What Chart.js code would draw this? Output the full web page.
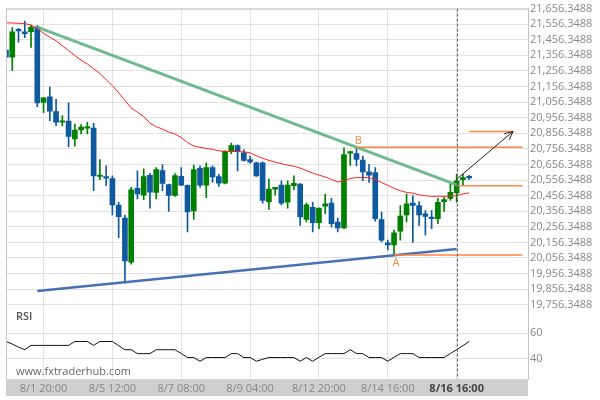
<!DOCTYPE html>
<html><head><meta charset="utf-8">
<script src="https://cdn.jsdelivr.net/npm/chart.js@4/dist/chart.umd.min.js"></script>
<style>html,body{margin:0;padding:0;background:#fff}#wrap{width:600px;height:400px;position:relative}</style>
</head><body><div id="wrap"><canvas id="c"></canvas></div>
<script>
// ---- data ----
const xTickIndex = [6, 17, 28, 39, 50, 61, 72];
const xTickLabels = ['8/1 20:00', '8/5 12:00', '8/7 08:00', '8/9 04:00', '8/12 20:00', '8/14 16:00', '8/16 16:00'];
const priceTicks = [19756.3488, 19856.3488, 19956.3488, 20056.3488, 20156.3488, 20256.3488, 20356.3488,
  20456.3488, 20556.3488, 20656.3488, 20756.3488, 20856.3488, 20956.3488, 21056.3488, 21156.3488,
  21256.3488, 21356.3488, 21456.3488, 21556.3488, 21656.3488];
const rsiTicks = [40, 60];

const open = [21390,21344,21520,21508,21508,21537,21054,21090,20995,20927,20934,20821,20878,20889,20889,
  20579,20579,20566,20395,20313,20029,20503,20460,20587,20477,20617,20528,20458,20581,20522,20359,20631,
  20524,20636,20579,20536,20742,20777,20731,20688,20667,20667,20418,20498,20524,20414,20520,20530,20304,
  20382,20283,20389,20409,20287,20249,20729,20726,20685,20609,20604,20302,20154,20140,20228,20333,20408,
  20393,20340,20319,20308,20418,20439,20473,20558,20574];
const high = [21396,21534,21529,21576,21550,21548,21086,21153,21075,20970,21052,20915,20913,20927,20921,
  20688,20647,20583,20414,20330,20509,20615,20629,20600,20636,20655,20531,20598,20636,20525,20653,20647,
  20667,20648,20593,20744,20794,20783,20752,20710,20672,20674,20562,20509,20552,20552,20583,20533,20409,
  20414,20376,20467,20439,20313,20763,20742,20763,20710,20657,20636,20351,20171,20235,20393,20467,20456,
  20418,20361,20361,20439,20446,20530,20593,20593,20587];
const low = [21339,21259,21441,21470,21407,21027,20989,20938,20906,20904,20769,20773,20853,20853,20488,
  20558,20520,20333,20186,19896,20017,20435,20431,20376,20435,20488,20355,20452,20520,20224,20304,20509,
  20444,20541,20515,20531,20726,20615,20678,20663,20579,20408,20368,20460,20397,20376,20494,20266,20287,
  20224,20245,20340,20256,20224,20245,20650,20647,20552,20541,20292,20160,20108,20076,20171,20287,20156,
  20266,20203,20245,20276,20355,20425,20414,20520,20558];
const close = [21344,21508,21513,21496,21537,21052,21084,20999,20927,20932,20837,20877,20896,20896,20583,
  20585,20568,20397,20321,20038,20494,20467,20579,20479,20623,20534,20458,20585,20524,20352,20623,20524,
  20636,20577,20536,20742,20777,20742,20682,20672,20583,20425,20498,20509,20408,20524,20536,20319,20397,
  20283,20376,20403,20277,20249,20720,20733,20688,20609,20588,20308,20171,20140,20218,20325,20403,20393,
  20333,20323,20308,20414,20431,20477,20552,20572,20570];
const movingAvg = [21565,21564,21562,21560,21551,21529,21498,21472,21450,21418,21387,21355,21326,21301,21270,
  21241,21200,21162,21117,21067,21019,20991,20965,20921,20899,20883,20864,20852,20829,20797,20775,20766,
  20759,20753,20744,20740,20740,20739,20737,20731,20712,20696,20683,20671,20661,20652,20645,20633,20617,
  20601,20588,20576,20560,20544,20553,20566,20572,20572,20572,20560,20541,20522,20503,20488,20477,20472,
  20461,20456,20452,20452,20452,20454,20456,20468,20474];
const rsi = [53.5,51.5,49,47,50.4,50.4,50.4,50.4,50.4,50.4,50.4,53.5,53.5,53.5,50.4,53.5,53.5,53.5,50.2,47,
  47,43.9,43.9,43.9,47,47,47,47,44,40.8,40.8,37.9,40.8,40.8,40.8,40.8,43.9,43.9,40.8,40.8,37.9,39.4,40.8,
  40.8,40.8,40.8,40.8,37.9,40.8,37.9,41,43.9,43.9,43.9,43.9,47,43.9,43.9,40.8,40.8,40.8,37.9,41,43.9,43.9,
  43.9,40.8,40.8,40.8,40.8,40.8,44,47,50.2,53.5];

const resistX = [5, 72], resistY = [21538, 20526];
const supportX = [5, 72], supportY = [19844, 20114];
const levelBX = [56, 82.5], levelB = 20767;
const levelBreakX = [72, 82.5], levelBreak = 20520;
const levelAX = [62, 82.5], levelA = 20076;
const targetX = [74, 81.2], target = 20868;
const arrowX = [72, 81], arrowY = [20562, 20868];
const currentIndex = 72;

// ---- styles ----
const GREEN = '#008000', BLUE = '#0f5a9e', ORANGE = '#ff8444';
const FONT = "'Open Sans', sans-serif";
Chart.defaults.font.family = FONT;
Chart.defaults.font.size = 11;

const idx = open.map((_, i) => i);
const candleColor = idx.map(i => close[i] >= open[i] ? GREEN : BLUE);
const seg = (xs, ys) => xs.map((x, i) => ({x, y: Array.isArray(ys) ? ys[i] : ys}));
const lineDs = (data, color, width, extra) => Object.assign({type: 'line', data, borderColor: color,
  borderWidth: width, pointRadius: 0, fill: false, tension: 0, yAxisID: 'y'}, extra || {});

const decor = {
  id: 'decor',
  beforeDraw(chart) {
    const {ctx, chartArea: a, scales} = chart;
    ctx.save();
    ctx.fillStyle = '#cfcfcf';
    ctx.fillRect(a.left, a.bottom, a.right - a.left, scales.x.bottom - a.bottom);
    ctx.restore();
  },
  afterDatasetsDraw(chart) {
    const {ctx, chartArea: a, scales} = chart;
    const xs = scales.x, ys = scales.y;
    ctx.save();
    ctx.strokeStyle = '#c6c6c6'; ctx.lineWidth = 1;
    ctx.beginPath();
    ctx.moveTo(a.left, a.top + 0.5); ctx.lineTo(a.right, a.top + 0.5);
    ctx.moveTo(a.left + 0.5, a.top); ctx.lineTo(a.left + 0.5, a.bottom);
    ctx.stroke();
    const cx = Math.round(xs.getPixelForValue(currentIndex)) + 0.5;
    ctx.strokeStyle = '#666'; ctx.setLineDash([3, 2]);
    ctx.beginPath(); ctx.moveTo(cx, a.top); ctx.lineTo(cx, a.bottom); ctx.stroke();
    ctx.setLineDash([]);
    const m = chart.getDatasetMeta(0).data;
    const p1 = m[0], p2 = m[1];
    const ang = Math.atan2(p2.y - p1.y, p2.x - p1.x);
    ctx.strokeStyle = '#222'; ctx.lineWidth = 1;
    ctx.beginPath();
    ctx.moveTo(p2.x - 9 * Math.cos(ang - 0.45), p2.y - 9 * Math.sin(ang - 0.45));
    ctx.lineTo(p2.x, p2.y);
    ctx.lineTo(p2.x - 9 * Math.cos(ang + 0.45), p2.y - 9 * Math.sin(ang + 0.45));
    ctx.stroke();
    ctx.font = "11px " + FONT; ctx.fillStyle = ORANGE;
    ctx.textAlign = 'center'; ctx.textBaseline = 'bottom';
    ctx.fillText('B', xs.getPixelForValue(56.3), ys.getPixelForValue(levelB) - 0.5);
    ctx.textBaseline = 'top';
    ctx.fillText('A', xs.getPixelForValue(62.3), ys.getPixelForValue(levelA) + 2);
    ctx.textAlign = 'left'; ctx.textBaseline = 'middle';
    ctx.fillStyle = '#555'; ctx.font = "600 11px " + FONT;
    ctx.fillText('RSI', a.left + 10, 317);
    ctx.fillStyle = '#666'; ctx.font = "11px " + FONT;
    ctx.fillText('www.fxtraderhub.com', a.left + 10, 372);
    ctx.restore();
  }
};

new Chart(document.getElementById('c'), {
  type: 'bar',
  data: {
    datasets: [
      lineDs(seg(arrowX, arrowY), '#222', 1),
      lineDs(seg(targetX, target), ORANGE, 1.5),
      lineDs(seg(levelBX, levelB), ORANGE, 1.5),
      lineDs(seg(levelBreakX, levelBreak), ORANGE, 1.5),
      lineDs(seg(levelAX, levelA), ORANGE, 1.5),
      lineDs(seg(resistX, resistY), 'rgba(95,178,130,0.9)', 3),
      lineDs(seg(supportX, supportY), '#4a70b4', 2.5),
      lineDs(idx.map(i => ({x: i, y: movingAvg[i]})), '#f22', 1),
      lineDs(idx.map(i => ({x: i, y: rsi[i]})), '#111', 1, {yAxisID: 'yr'}),
      {type: 'bar', data: idx.map(i => ({x: i, y: [open[i], close[i]]})), backgroundColor: candleColor,
        barThickness: 5, minBarLength: 1.5, grouped: false, yAxisID: 'y'},
      {type: 'bar', data: idx.map(i => ({x: i, y: [low[i], high[i]]})), backgroundColor: candleColor,
        barThickness: 1, grouped: false, yAxisID: 'y'}
    ]
  },
  options: {
    responsive: true, maintainAspectRatio: false, animation: false,
    layout: {padding: {left: 6, top: 4, right: 0, bottom: 4}},
    plugins: {legend: {display: false}, tooltip: {enabled: false}},
    scales: {
      x: {
        type: 'linear', min: 0, max: 83.4, offset: false,
        grid: {color: '#e2e2e2', drawTicks: false, offset: false},
        border: {display: false},
        afterBuildTicks: s => { s.ticks = xTickIndex.map(v => ({value: v})); },
        afterFit: s => { s.height = 17; },
        ticks: {
          padding: 3, maxRotation: 0, autoSkip: false,
          callback: (v, i) => xTickLabels[i],
          color: c => c.index === 6 ? '#444' : '#888',
          font: c => ({family: FONT, size: 11, weight: c.index === 6 ? 'bold' : 'normal'})
        }
      },
      y: {
        type: 'linear', position: 'right', stack: 'right', stackWeight: 308,
        min: 19704.5, max: 21656.3488,
        grid: {color: '#e2e2e2', drawTicks: false},
        border: {display: true, color: '#c6c6c6'},
        afterBuildTicks: s => { s.ticks = priceTicks.map(v => ({value: v})); },
        afterFit: s => { s.width = 72; },
        ticks: {padding: 2, color: '#888', autoSkip: false,
          callback: v => Number(v).toLocaleString('en-US', {minimumFractionDigits: 4, maximumFractionDigits: 4})}
      },
      yr: {
        type: 'linear', position: 'right', stack: 'right', stackWeight: 67,
        min: 23.83, max: 76.17,
        grid: {color: '#e2e2e2', drawTicks: false},
        border: {display: true, color: '#c6c6c6'},
        afterBuildTicks: s => { s.ticks = rsiTicks.map(v => ({value: v})); },
        afterFit: s => { s.width = 72; },
        ticks: {padding: 2, color: '#888', autoSkip: false, callback: v => String(v)}
      }
    }
  },
  plugins: [decor]
});
</script></body></html>
